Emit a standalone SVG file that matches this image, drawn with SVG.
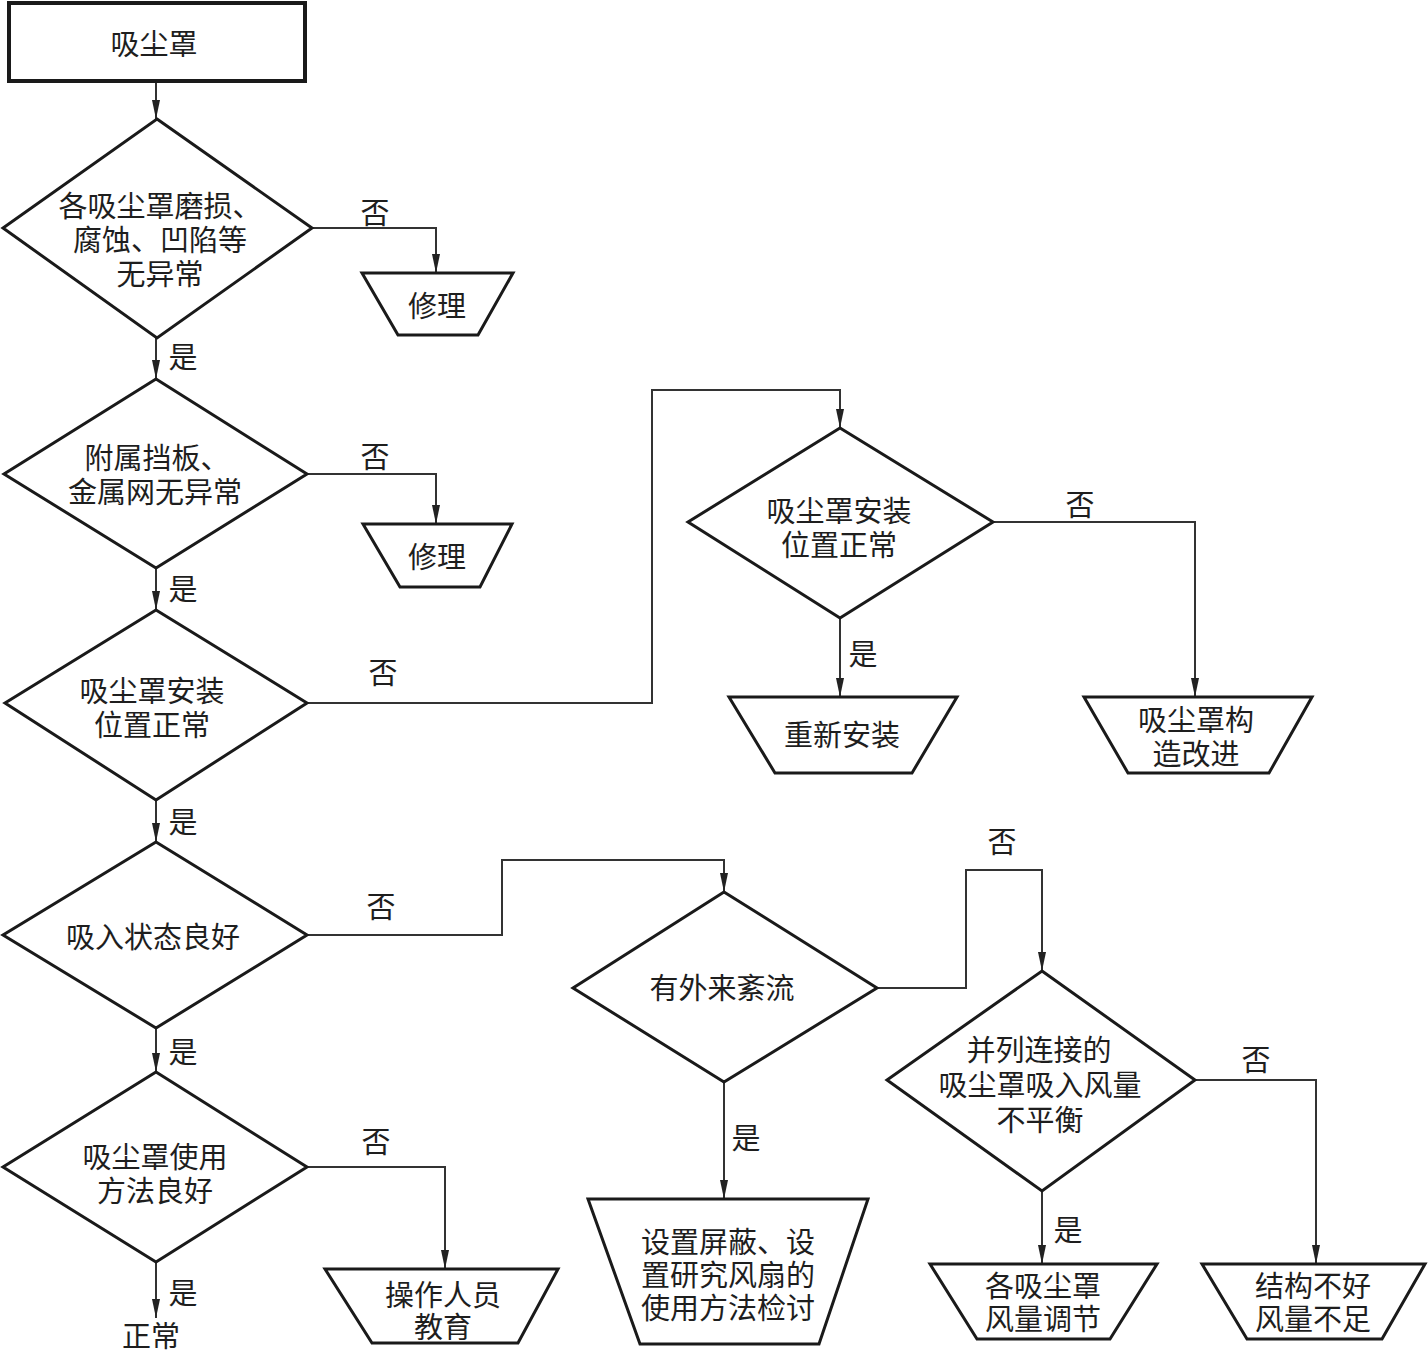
<svg xmlns="http://www.w3.org/2000/svg" width="1428" height="1357" viewBox="0 0 1428 1357">
<style>
.shape{fill:#fff;stroke:#1a1a1a;stroke-width:3;stroke-linejoin:miter}
.box{fill:#fff;stroke:#1a1a1a;stroke-width:4}
.conn{fill:none;stroke:#333;stroke-width:2}
.t{font-family:"Liberation Sans","Noto Sans CJK SC","Noto Sans CJK JP",sans-serif;font-size:29px;fill:#1e1e1e;text-anchor:middle;dominant-baseline:central}
</style>
<defs>
<marker id="arr" markerWidth="20" markerHeight="10" refX="19" refY="5" orient="auto" markerUnits="userSpaceOnUse">
<path d="M0,1 L19,5 L0,9 Z" fill="#222"/>
</marker>
</defs>
<rect width="1428" height="1357" fill="#fff"/>

<g id="connectors">
<path class="conn" d="M156 81 V119" marker-end="url(#arr)"/>
<path class="conn" d="M156 338 V379" marker-end="url(#arr)"/>
<path class="conn" d="M156 568 V610" marker-end="url(#arr)"/>
<path class="conn" d="M156 800 V842" marker-end="url(#arr)"/>
<path class="conn" d="M156 1028 V1072" marker-end="url(#arr)"/>
<path class="conn" d="M156 1262 V1318" marker-end="url(#arr)"/>
<path class="conn" d="M312 228 H436 V273" marker-end="url(#arr)"/>
<path class="conn" d="M307 474 H436 V524" marker-end="url(#arr)"/>
<path class="conn" d="M307 703 H652 V390 H840 V428" marker-end="url(#arr)"/>
<path class="conn" d="M840 618 V697" marker-end="url(#arr)"/>
<path class="conn" d="M993 522 H1195 V697" marker-end="url(#arr)"/>
<path class="conn" d="M307 935 H502 V860 H724 V892" marker-end="url(#arr)"/>
<path class="conn" d="M724 1082 V1199" marker-end="url(#arr)"/>
<path class="conn" d="M877 988 H966 V870 H1042 V971" marker-end="url(#arr)"/>
<path class="conn" d="M1042 1191 V1264" marker-end="url(#arr)"/>
<path class="conn" d="M1195 1080 H1316 V1264" marker-end="url(#arr)"/>
<path class="conn" d="M307 1167 H445 V1269" marker-end="url(#arr)"/>
<text class="t" x="375" y="214">否</text>
<text class="t" x="183" y="358">是</text>
<text class="t" x="375" y="458">否</text>
<text class="t" x="183" y="590">是</text>
<text class="t" x="383" y="674">否</text>
<text class="t" x="183" y="823">是</text>
<text class="t" x="1080" y="506">否</text>
<text class="t" x="863" y="655">是</text>
<text class="t" x="381" y="908">否</text>
<text class="t" x="183" y="1053">是</text>
<text class="t" x="1002" y="843">否</text>
<text class="t" x="746" y="1139">是</text>
<text class="t" x="1256" y="1061">否</text>
<text class="t" x="1068" y="1231">是</text>
<text class="t" x="376" y="1143">否</text>
<text class="t" x="183" y="1294">是</text>
</g>

<g id="start">
<rect class="box" x="9" y="3" width="296" height="78"/>
<text class="t" x="154" y="45">吸尘罩</text>
</g>

<g id="d1">
<polygon class="shape" points="157,119 312,228 157,338 3,228"/>
<text class="t" x="160" y="207">各吸尘罩磨损、</text>
<text class="t" x="160" y="241">腐蚀、凹陷等</text>
<text class="t" x="160" y="275">无异常</text>
</g>

<g id="fix1">
<polygon class="shape" points="362,273 513,273 478,335 398,335"/>
<text class="t" x="437" y="307">修理</text>
</g>

<g id="d2">
<polygon class="shape" points="156,379 307,474 156,568 4,474"/>
<text class="t" x="157" y="459">附属挡板、</text>
<text class="t" x="155" y="493">金属网无异常</text>
</g>

<g id="fix2">
<polygon class="shape" points="363,524 512,524 480,587 400,587"/>
<text class="t" x="437" y="558">修理</text>
</g>

<g id="d3">
<polygon class="shape" points="156,610 307,703 156,800 5,703"/>
<text class="t" x="152" y="692">吸尘罩安装</text>
<text class="t" x="152" y="726">位置正常</text>
</g>

<g id="d4">
<polygon class="shape" points="840,428 993,522 840,618 688,522"/>
<text class="t" x="839" y="512">吸尘罩安装</text>
<text class="t" x="839" y="546">位置正常</text>
</g>

<g id="reinstall">
<polygon class="shape" points="729,697 957,697 912,773 775,773"/>
<text class="t" x="842" y="736">重新安装</text>
</g>

<g id="improve">
<polygon class="shape" points="1084,697 1312,697 1269,773 1128,773"/>
<text class="t" x="1196" y="721">吸尘罩构</text>
<text class="t" x="1196" y="755">造改进</text>
</g>

<g id="d5">
<polygon class="shape" points="156,842 307,935 156,1028 3,935"/>
<text class="t" x="153" y="938">吸入状态良好</text>
</g>

<g id="d6">
<polygon class="shape" points="724,892 877,988 724,1082 573,988"/>
<text class="t" x="722" y="989">有外来紊流</text>
</g>

<g id="shield">
<polygon class="shape" points="588,1199 868,1199 819,1344 640,1344"/>
<text class="t" x="728" y="1243">设置屏蔽、设</text>
<text class="t" x="728" y="1276">置研究风扇的</text>
<text class="t" x="728" y="1309">使用方法检讨</text>
</g>

<g id="d7">
<polygon class="shape" points="1042,971 1195,1080 1042,1191 887,1080"/>
<text class="t" x="1039" y="1051">并列连接的</text>
<text class="t" x="1040" y="1086">吸尘罩吸入风量</text>
<text class="t" x="1040" y="1121">不平衡</text>
</g>

<g id="adjust">
<polygon class="shape" points="930,1264 1157,1264 1110,1339 977,1339"/>
<text class="t" x="1043" y="1287">各吸尘罩</text>
<text class="t" x="1043" y="1320">风量调节</text>
</g>

<g id="structure">
<polygon class="shape" points="1202,1264 1425,1264 1382,1339 1247,1339"/>
<text class="t" x="1313" y="1287">结构不好</text>
<text class="t" x="1313" y="1320">风量不足</text>
</g>

<g id="d8">
<polygon class="shape" points="156,1072 307,1167 156,1262 3,1167"/>
<text class="t" x="155" y="1158">吸尘罩使用</text>
<text class="t" x="155" y="1192">方法良好</text>
</g>

<g id="educate">
<polygon class="shape" points="325,1269 558,1269 518,1343 372,1343"/>
<text class="t" x="443" y="1296">操作人员</text>
<text class="t" x="443" y="1328">教育</text>
</g>

<g id="normal">
<text class="t" x="151" y="1337">正常</text>
</g>
</svg>
